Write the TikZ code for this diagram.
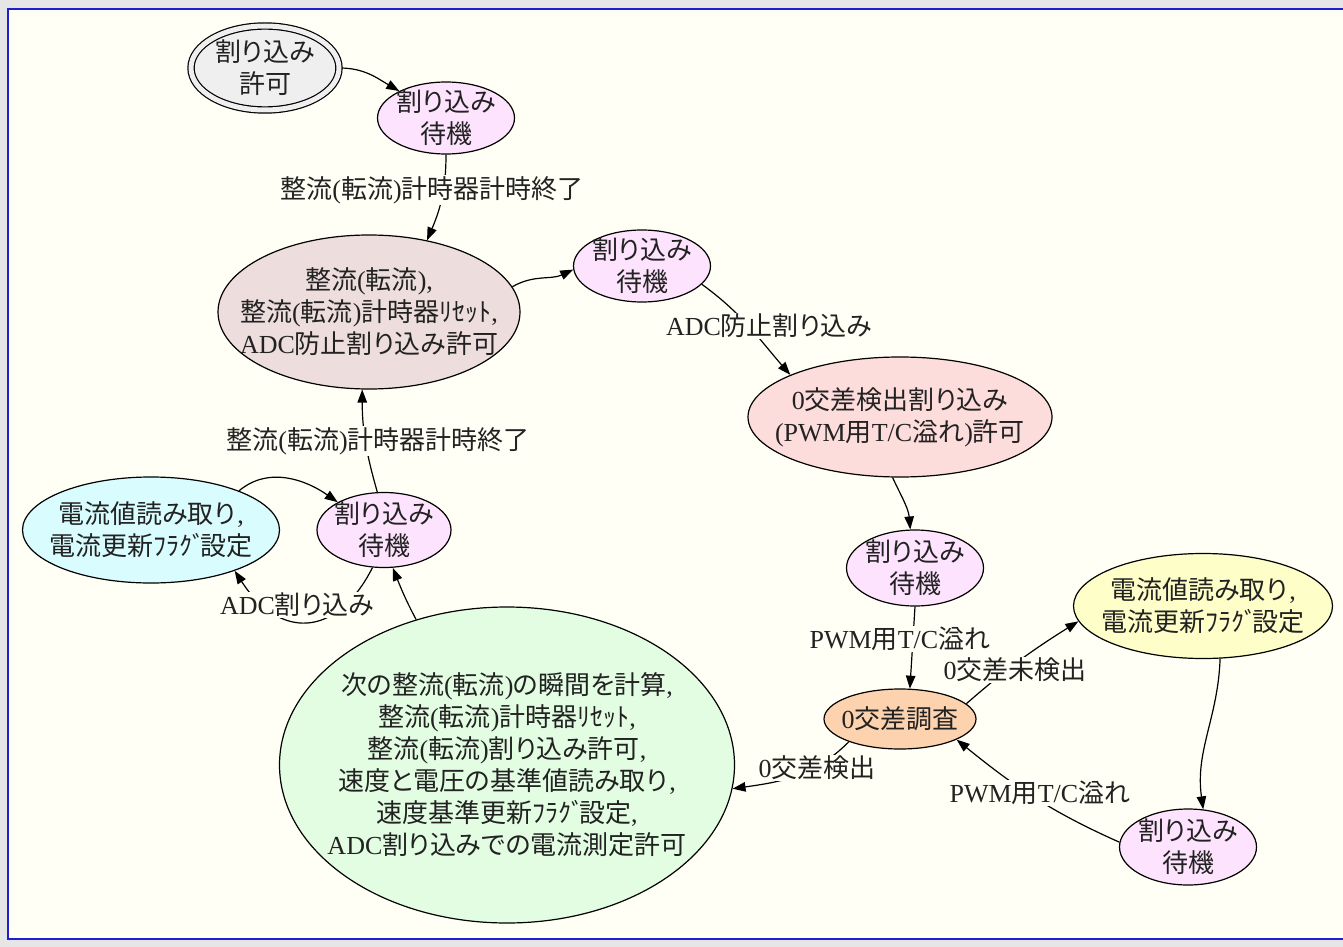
\documentclass[tikz,border=0pt]{standalone}
\usepackage{fontspec}
\setmainfont{Liberation Serif}
\newfontfamily\jp{Noto Sans CJK JP}[RawFeature=+palt]
\usetikzlibrary{shapes.geometric,arrows.meta}
\newcommand\J[1]{{\jp #1}}
\newcommand\flg{{\jp ﾌﾗｸﾞ}\kern-0.2em}
\newcommand\cm{\kern2pt,}
\definecolor{bgc}{HTML}{FFFFF5}
\definecolor{outerc}{HTML}{E6E6E6}
\definecolor{framec}{HTML}{1E1ED2}
\definecolor{txt}{HTML}{222222}
\definecolor{startc}{HTML}{EFEFEF}
\definecolor{waitc}{HTML}{FDE3FD}
\definecolor{ac}{HTML}{EDDDDD}
\definecolor{bc}{HTML}{FDDCDC}
\definecolor{cc}{HTML}{FCD3AE}
\definecolor{dc}{HTML}{FEFEC8}
\definecolor{ec}{HTML}{D9FDFF}
\definecolor{gc}{HTML}{E3FDE3}
\pgfdeclarelayer{back}
\pgfdeclarelayer{edges}
\pgfsetlayers{back,edges,main}
\begin{document}
\begin{tikzpicture}[x=1pt,y=1pt,
  every node/.style={font=\fontsize{26}{32}\selectfont, text=txt},
  st/.style={ellipse, draw=black, line width=1.2pt, inner xsep=-90pt, inner ysep=-80pt, align=center},
  waitn/.style={st, fill=waitc, minimum width=137pt, minimum height=72pt},
  lab/.style={fill=bgc, inner sep=1pt},
  arr/.style={line width=1.2pt, -{Triangle[length=13pt,width=9.5pt]}}]
\useasboundingbox (0,0) rectangle (1343,-947);
\begin{pgfonlayer}{back}
\fill[outerc] (0,0) rectangle (1343,-947);
\filldraw[fill=bgc, draw=framec, line width=2pt] (8,-9) rectangle (1360,-939);
\end{pgfonlayer}

% states
\node[st, fill=startc, double=startc, double distance=5pt, minimum width=148pt, minimum height=84pt] (s) at (265,-68) {\J{割り込み}\\\J{許可}};
\node[waitn] (w1) at (446,-118) {\J{割り込み}\\\J{待機}};
\node[st, fill=ac, minimum width=302pt, minimum height=154pt] (A) at (369,-312) {\J{整流}(\J{転流}),\\\J{整流}(\J{転流})\J{計時器ﾘｾｯﾄ},\\ADC\J{防止割り込み許可}};
\node[waitn] (w2) at (642,-266) {\J{割り込み}\\\J{待機}};
\node[st, fill=bc, minimum width=304pt, minimum height=120pt] (B) at (900,-417) {0\J{交差検出割り込み}\\(PWM\J{用}T/C\J{溢れ})\J{許可}};
\node[waitn, minimum height=76pt] (w3) at (915,-568) {\J{割り込み}\\\J{待機}};
\node[st, fill=cc, minimum width=152pt, minimum height=60pt] (C) at (900,-719) {0\J{交差調査}};
\node[st, fill=dc, minimum width=259pt, minimum height=105pt] (D) at (1203,-606) {\J{電流値読み取り}\cm\\\J{電流更新}\flg\J{設定}};
\node[waitn, minimum height=76pt] (w4) at (1188,-847) {\J{割り込み}\\\J{待機}};
\node[st, fill=gc, minimum width=455pt, minimum height=316pt] (G) at (507,-765) {\J{次の整流}(\J{転流})\J{の瞬間を計算},\\\J{整流}(\J{転流})\J{計時器ﾘｾｯﾄ},\\\J{整流}(\J{転流})\J{割り込み許可},\\\J{速度と電圧の基準値読み取り}\cm\\\J{速度基準更新}\flg\J{設定},\\ADC\J{割り込みでの電流測定許可}};
\node[waitn, minimum height=75pt, minimum width=134pt] (w5) at (384,-530) {\J{割り込み}\\\J{待機}};
\node[st, fill=ec, minimum width=257pt, minimum height=106pt] (E) at (151,-530) {\J{電流値読み取り}\cm\\\J{電流更新}\flg\J{設定}};

% edge labels
\node[lab] (l1) at (432,-190) {\J{整流}(\J{転流})\J{計時器計時終了}};
\node[lab] (l2) at (769,-326) {ADC\J{防止割り込み}};
\node[lab] (l3) at (900,-639) {PWM\J{用}T/C\J{溢れ}};
\node[lab] (l4) at (1015,-670) {0\J{交差未検出}};
\node[lab] (l5) at (1040,-793) {PWM\J{用}T/C\J{溢れ}};
\node[lab] (l6) at (817,-768) {0\J{交差検出}};
\node[lab] (l7) at (378,-441) {\J{整流}(\J{転流})\J{計時器計時終了}};
\node[lab] (l8) at (297,-605) {ADC\J{割り込み}};

\begin{pgfonlayer}{edges}
\draw[arr] (s) to[out=0,in=150] (w1);
\draw[arr] (w1.south) to[out=-90,in=67] (A.51);
\draw[arr] (A.10) to[out=30,in=-155] (w2.183);
\draw[arr] (w2.-17) to[out=-36,in=131] (B.159);
\draw[arr] (B.-97) to[out=-65,in=95] (w3.97);
\draw[arr] (w3.south) -- (C.72);
\draw[arr] (C.13) to[out=41,in=-148] (D.187);
\draw[arr] (C.204) to[out=-135,in=8] (G.-6);
\draw[arr] (D.-72) to[out=-92,in=98] (w4.68);
\draw[arr] (w4.176) to[out=156,in=-39] (C.-20);
\draw[arr] (w5.100) to[out=106,in=-90] (A.-95);
\draw[arr] (E.24) to[out=40,in=145] (w5.149);
\draw[arr] (w5.-107) to[out=-117,in=-57,looseness=1.5] (E.-26);
\draw[arr] (G.122) to[out=118,in=-68] (w5.-77);
\end{pgfonlayer}
\end{tikzpicture}
\end{document}
